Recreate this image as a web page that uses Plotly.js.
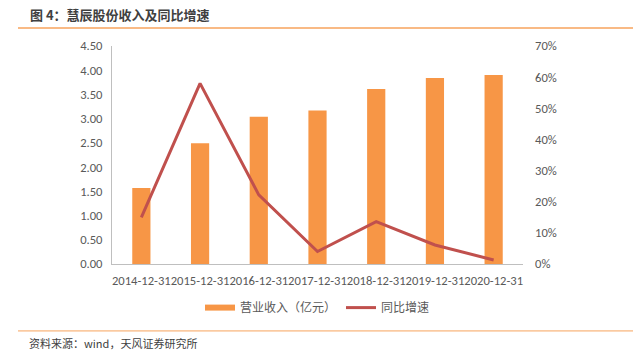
<!DOCTYPE html>
<html><head><meta charset="utf-8">
<script src="https://cdn.plot.ly/plotly-3.0.1.min.js"></script>
<style>html,body{margin:0;padding:0;background:#fff;}#c{width:633px;height:355px;}</style>
</head><body><div id="c"></div>
<script>
const categories = ["2014-12-31","2015-12-31","2016-12-31","2017-12-31","2018-12-31","2019-12-31","2020-12-31"];
const revenue = [1.57, 2.49, 3.04, 3.17, 3.61, 3.84, 3.90];
const growth = [0.150, 0.580, 0.222, 0.040, 0.136, 0.061, 0.013];
const leftTicks = [0,0.5,1,1.5,2,2.5,3,3.5,4,4.5];
const rightTicks = [0,0.1,0.2,0.3,0.4,0.5,0.6,0.7];

const font = "Calibri, Carlito, 'Liberation Sans', 'Noto Sans CJK SC', sans-serif";
const cjk = "'Noto Sans CJK SC', sans-serif";
const gray = "#595959";
const orange = '#F79646';

const traces = [
  {type:'scatter', mode:'lines', x:[null], y:[null], name:'营业收入（亿元）', line:{color:orange, width:6}, hoverinfo:'skip'},
  {type:'bar', x:categories, y:revenue, name:'营业收入（亿元）', marker:{color:orange}, width:0.31, showlegend:false},
  {type:'scatter', mode:'lines', x:categories, y:growth, name:'同比增速', yaxis:'y2', line:{color:'#C0504D', width:3}}
];
const layout = {
  width:633, height:355,
  margin:{l:112, r:110, t:46, b:91},
  paper_bgcolor:'#fff', plot_bgcolor:'#fff',
  font:{family:font, size:12, color:gray},
  showlegend:true,
  legend:{orientation:'h', x:0.5, xanchor:'center', y:-0.2, yanchor:'middle', font:{family:cjk, size:12, color:gray}, traceorder:'normal', itemwidth:30},
  bargap:0.69,
  xaxis:{type:'category', showline:true, linecolor:'#BFBFBF', linewidth:1, ticks:'', tickfont:{family:font, size:12.6, color:gray}, tickangle:0, showgrid:false, ticklabelstandoff:5},
  yaxis:{range:[0,4.5], tickvals:leftTicks, ticktext:leftTicks.map(v=>v.toFixed(2)), showline:true, linecolor:'#BFBFBF', showgrid:false, zeroline:false, ticks:'', tickfont:{family:font, size:12.6, color:gray}, ticklabelstandoff:6},
  yaxis2:{range:[0,0.7], overlaying:'y', side:'right', tickvals:rightTicks, ticktext:rightTicks.map(v=>Math.round(v*100)+'%'), showline:false, showgrid:false, zeroline:false, ticks:'', tickfont:{family:font, size:12.6, color:gray}, ticklabelstandoff:11},
  shapes:[
    {type:'line', xref:'paper', yref:'paper', x0:-0.2287, x1:1.27, y0:1.0826, y1:1.0826, line:{color:'#F7A35C', width:1.5}},
    {type:'line', xref:'paper', yref:'paper', x0:-0.2287, x1:1.27, y0:-0.307, y1:-0.307, line:{color:'#F7A35C', width:1}}
  ],
  annotations:[
    {xref:'paper', yref:'paper', x:(28-112)/411, y:(264-14)/218, xanchor:'left', yanchor:'middle', showarrow:false, text:'<b>图 4：慧辰股份收入及同比增速</b>', font:{family:cjk, size:13, color:'#404040'}},
    {xref:'paper', yref:'paper', x:(27-112)/411, y:(264-343)/218, xanchor:'left', yanchor:'middle', showarrow:false, text:'资料来源：wind，天风证券研究所', font:{family:cjk, size:11, color:'#404040'}}
  ]
};
Plotly.newPlot('c', traces, layout, {displayModeBar:false, staticPlot:true});
</script></body></html>
